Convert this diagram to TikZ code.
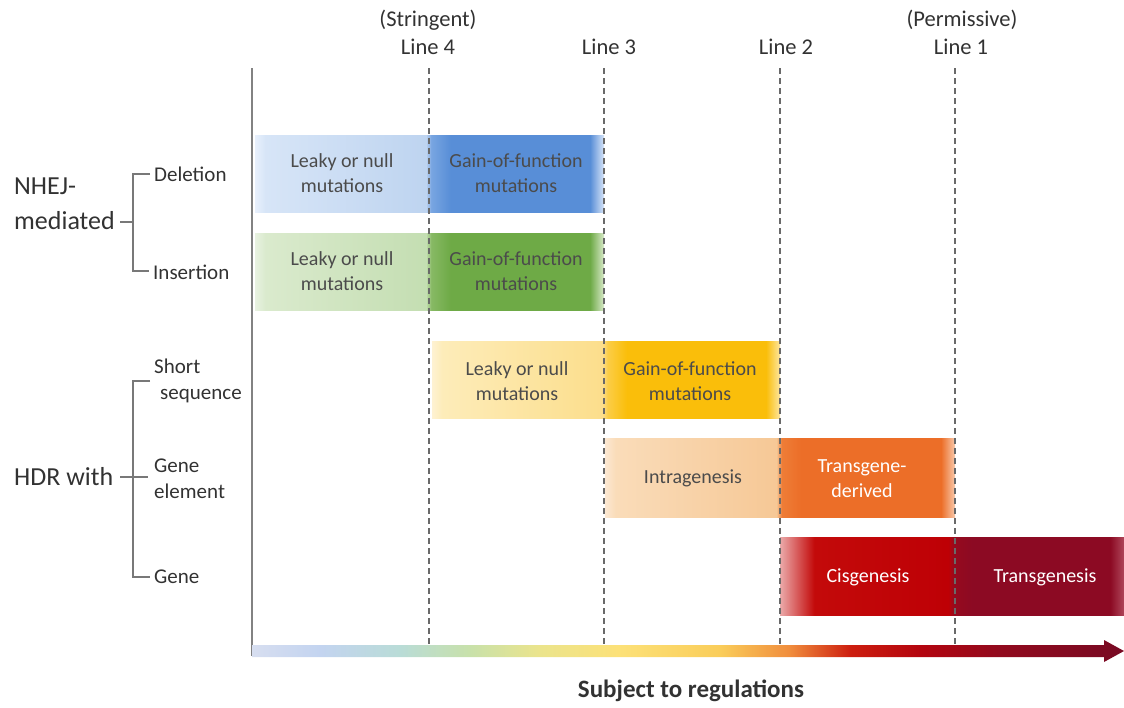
\documentclass[tikz,border=0pt]{standalone}
\usepackage{fontspec}
\setmainfont{Carlito}
\definecolor{txt}{RGB}{50,50,50}
\definecolor{bartxt}{RGB}{75,75,75}
\definecolor{brk}{RGB}{120,120,120}
\definecolor{dashc}{RGB}{105,105,105}
\definecolor{axisc}{RGB}{130,130,130}
% Deletion
\definecolor{da0}{RGB}{232,240,252}\definecolor{da1}{RGB}{215,229,247}\definecolor{da2}{RGB}{190,212,240}
\definecolor{da3}{RGB}{120,165,225}\definecolor{da4}{RGB}{88,142,215}\definecolor{da5}{RGB}{215,228,247}
% Insertion
\definecolor{ia0}{RGB}{232,242,225}\definecolor{ia1}{RGB}{218,234,205}\definecolor{ia2}{RGB}{196,222,178}
\definecolor{ia3}{RGB}{135,185,100}\definecolor{ia4}{RGB}{110,170,70}\definecolor{ia5}{RGB}{215,232,200}
% Short sequence
\definecolor{sa0}{RGB}{254,242,210}\definecolor{sa1}{RGB}{253,236,185}\definecolor{sa2}{RGB}{252,222,140}
\definecolor{sa3}{RGB}{251,205,70}\definecolor{sa4}{RGB}{250,190,10}\definecolor{sa5}{RGB}{253,230,160}
% Gene element
\definecolor{ea0}{RGB}{252,232,210}\definecolor{ea1}{RGB}{250,220,185}\definecolor{ea2}{RGB}{246,200,150}
\definecolor{ea3}{RGB}{238,125,55}\definecolor{ea4}{RGB}{236,110,40}\definecolor{ea5}{RGB}{248,200,170}
% Gene
\definecolor{ga0}{RGB}{235,170,170}\definecolor{ga1}{RGB}{195,10,10}\definecolor{ga2}{RGB}{190,0,5}
\definecolor{ga3}{RGB}{150,10,30}\definecolor{ga4}{RGB}{140,10,35}\definecolor{ga5}{RGB}{175,70,90}
% arrow
\definecolor{ar0}{RGB}{215,222,240}\definecolor{ar1}{RGB}{195,212,240}\definecolor{ar2}{RGB}{185,220,215}
\definecolor{ar3}{RGB}{200,225,170}\definecolor{ar4}{RGB}{235,228,140}\definecolor{ar5}{RGB}{252,225,120}
\definecolor{ar6}{RGB}{250,205,90}\definecolor{ar7}{RGB}{240,140,60}\definecolor{ar8}{RGB}{205,30,15}
\definecolor{ar9}{RGB}{180,5,15}\definecolor{ar10}{RGB}{145,10,30}\definecolor{ar11}{RGB}{120,10,35}

\newcommand{\mkbarshade}[8]{%
 \pgfdeclarehorizontalshading{#1}{100bp}{color(0bp)=(#2); color(25bp)=(#2); color(#8)=(#3);
 color(49.5bp)=(#4); color(50.25bp)=(#5); color(53bp)=(#6); color(73bp)=(#6); color(75bp)=(#7); color(100bp)=(#7)}}
\mkbarshade{delsh}{da0}{da1}{da2}{da3}{da4}{da5}{26.5bp}
\mkbarshade{inssh}{ia0}{ia1}{ia2}{ia3}{ia4}{ia5}{26.5bp}
\mkbarshade{shosh}{sa0}{sa1}{sa2}{sa3}{sa4}{sa5}{26.5bp}
\mkbarshade{elesh}{ea0}{ea1}{ea2}{ea3}{ea4}{ea5}{26.5bp}
\mkbarshade{gensh}{ga0}{ga1}{ga2}{ga3}{ga4}{ga5}{30bp}
\pgfdeclarehorizontalshading{arrsh}{100bp}{color(0bp)=(ar0); color(25bp)=(ar0); color(28.9bp)=(ar1);
 color(33.5bp)=(ar2); color(37.5bp)=(ar3); color(41.5bp)=(ar4); color(46bp)=(ar5); color(51.85bp)=(ar6);
 color(55.85bp)=(ar7); color(59.3bp)=(ar8); color(63.3bp)=(ar9); color(67.9bp)=(ar10); color(75bp)=(ar11); color(100bp)=(ar11)}

\begin{document}
\begin{tikzpicture}[x=1pt,y=-1pt,
  toplab/.style={font=\fontsize{22.5}{27}\selectfont, text=txt, inner sep=0pt},
  grplab/.style={font=\fontsize{26}{35}\selectfont, text=txt, align=left, anchor=west, inner sep=0pt},
  sublab/.style={font=\fontsize{21}{25.5}\selectfont, text=txt, align=left, anchor=west, inner sep=0pt},
  bartext/.style={font=\fontsize{20}{25}\selectfont, text=bartxt, align=center, inner sep=0pt},
  whitetext/.style={font=\fontsize{20}{25}\selectfont, text=white, align=center, inner sep=0pt},
  bracket/.style={draw=brk, line width=1.5pt},
  regline/.style={draw=dashc, line width=1.4pt, dash pattern=on 6pt off 4pt},
]
\useasboundingbox (0,0) rectangle (1124,707);

% bars
\shade[shading=delsh] (255,135) rectangle (604,212);
\shade[shading=inssh] (255,233) rectangle (604,310);
\shade[shading=shosh] (432,341) rectangle (780,418);
\shade[shading=elesh] (605,438) rectangle (955,517);
\shade[shading=gensh] (780,537) rectangle (1124,615);

% bar texts
\node[bartext] (d1) at (342,173) {Leaky or null\\mutations};
\node[bartext] (d2) at (516,173) {Gain-of-function\\mutations};
\node[bartext] (i1) at (342,271) {Leaky or null\\mutations};
\node[bartext] (i2) at (516,271) {Gain-of-function\\mutations};
\node[bartext] (s1) at (517,381) {Leaky or null\\mutations};
\node[bartext] (s2) at (690,381) {Gain-of-function\\mutations};
\node[bartext] (e1) at (693,478) {Intragenesis};
\node[whitetext] (e2) at (862,479) {Transgene-\\derived};
\node[whitetext] (g1) at (868,577) {Cisgenesis};
\node[whitetext] (g2) at (1045,577) {Transgenesis};

% axis
\coordinate (axtop) at (252,68);
\coordinate (axbot) at (252,656);
\draw[draw=axisc, line width=2pt] (axtop) -- (axbot);

% top labels
\node[toplab] (str) at (428,20) {(Stringent)};
\node[toplab] (L4) at (428,47) {Line 4};
\node[toplab] (L3) at (609,47) {Line 3};
\node[toplab] (L2) at (786,47) {Line 2};
\node[toplab] (per) at (962,20) {(Permissive)};
\node[toplab] (L1) at (961,47) {Line 1};

% dashed regulation lines
\foreach \n/\x in {4/429,3/604,2/780,1/955}{
  \coordinate (t\n) at (\x,68);
  \coordinate (b\n) at (\x,645);
  \draw[regline] (t\n) -- (b\n);
}

% bottom arrow
\shade[shading=arrsh] (252,645) -- (1104,645) -- (1104,640) -- (1124,651) -- (1104,662) -- (1104,657) -- (252,657) -- cycle;
\node[font=\fontsize{25}{30}\selectfont\bfseries, text=txt] (subj) at (691,691) {Subject to regulations};

% left labels
\node[grplab] (nhej) at (14,204) {NHEJ-\\mediated};
\node[sublab] (del) at (154,174) {Deletion};
\node[sublab] (ins) at (153,272) {Insertion};
\coordinate (nb) at (120,222);
\coordinate (nv) at (133,222);
\draw[bracket] (nb) -- (nv);
\draw[bracket] ([xshift=-4pt]del.west) -- (133,174) -- (133,271) -- ([xshift=-4pt]ins.west |- 0,271);

\node[grplab] (hdr) at (14,477) {HDR with};
\node[sublab] (sho) at (154,381) {Short\\\hspace*{6pt}sequence};
\node[sublab] (ele) at (154,479) {Gene\\element};
\node[sublab] (gen) at (154,577) {Gene};
\coordinate (hb) at (120,477);
\coordinate (he) at (148,477);
\draw[bracket] (hb) -- (he);
\draw[bracket] (150,381) -- (133,381) -- (133,577) -- ([xshift=-4pt]gen.west);
\end{tikzpicture}
\end{document}
